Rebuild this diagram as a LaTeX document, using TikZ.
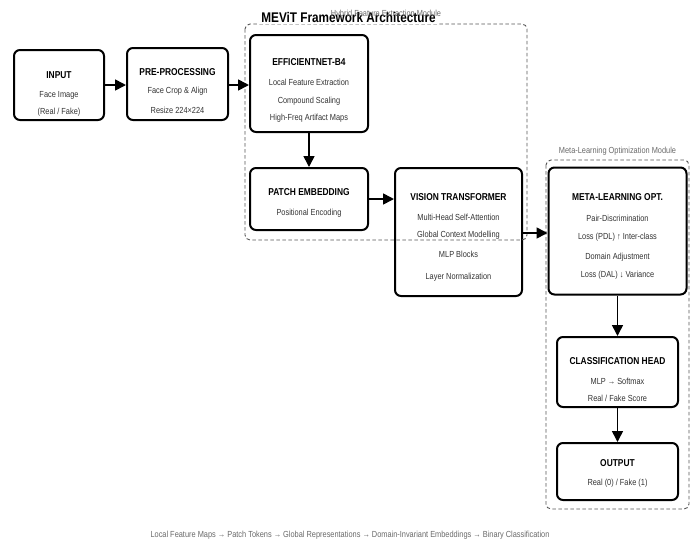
\documentclass[tikz,border=0pt]{standalone}
\usepackage{fontspec}
\setmainfont{Liberation Sans}[FakeStretch=0.84]
\usetikzlibrary{arrows.meta}
\definecolor{bodytxt}{HTML}{333333}
\definecolor{modtxt}{HTML}{6A6A6A}
\definecolor{modline}{HTML}{555555}
\tikzset{
  blk/.style={draw=black, line width=2pt, rounded corners=6pt, fill=white, inner sep=0pt},
  ttl/.style={font=\bfseries\fontsize{10}{12}\selectfont, text=black, inner sep=0pt},
  bdy/.style={font=\fontsize{8.8}{10}\selectfont, text=bodytxt, inner sep=0pt},
  modbox/.style={draw=modline, dash pattern=on 3.5pt off 2.5pt, line width=0.9pt, rounded corners=5pt},
  modlbl/.style={font=\fontsize{8.8}{10}\selectfont, text=modtxt, inner sep=0pt},
  flow/.style={draw=black, line width=1.6pt, -{Triangle[length=11pt,width=11pt]}},
}
\begin{document}
\begin{tikzpicture}[x=1pt,y=-1pt]
\useasboundingbox[fill=white] (0,0) rectangle (694,539);

% boxes
\node[blk, minimum width=90pt, minimum height=70pt] (input) at (59,85) {};
\node[blk, minimum width=101pt, minimum height=72pt] (pre) at (177.5,84) {};
\node[blk, minimum width=118pt, minimum height=97pt] (eff) at (309,83.5) {};
\node[blk, minimum width=118pt, minimum height=62pt] (patch) at (309,199) {};
\node[blk, minimum width=127pt, minimum height=128pt] (vit) at (458.5,232) {};
\node[blk, minimum width=138pt, minimum height=127pt] (meta) at (617.5,231) {};
\node[blk, minimum width=121pt, minimum height=70pt] (cls) at (617.5,372) {};
\node[blk, minimum width=121pt, minimum height=57pt] (out) at (617.5,471.5) {};

% texts
\node[ttl] (t1) at (59,75) {INPUT};
\node[bdy] (t1a) at (59,95) {Face Image};
\node[bdy] (t1b) at (59,112) {(Real / Fake)};

\node[ttl] (t2) at (177.5,72) {PRE-PROCESSING};
\node[bdy] (t2a) at (177.5,91) {Face Crop \& Align};
\node[bdy] (t2b) at (177.5,110) {Resize 224×224};

\node[ttl] (t3) at (309,62) {EFFICIENTNET-B4};
\node[bdy] (t3a) at (309,82) {Local Feature Extraction};
\node[bdy] (t3b) at (309,101) {Compound Scaling};
\node[bdy] (t3c) at (309,118) {High-Freq Artifact Maps};

\node[ttl] (t4) at (309,192) {PATCH EMBEDDING};
\node[bdy] (t4a) at (309,213) {Positional Encoding};

\node[ttl] (t5) at (458.5,197) {VISION TRANSFORMER};
\node[bdy] (t5a) at (458.5,217) {Multi-Head Self-Attention};
\node[bdy] (t5b) at (458.5,235) {Global Context Modelling};
\node[bdy] (t5c) at (458.5,254) {MLP Blocks};
\node[bdy] (t5d) at (458.5,277) {Layer Normalization};

\node[ttl] (t6) at (617.5,197) {META-LEARNING OPT.};
\node[bdy] (t6a) at (617.5,218) {Pair-Discrimination};
\node[bdy] (t6b) at (617.5,237) {Loss (PDL) ↑ Inter-class};
\node[bdy] (t6c) at (617.5,257) {Domain Adjustment};
\node[bdy] (t6d) at (617.5,275) {Loss (DAL) ↓ Variance};

\node[ttl] (t7) at (617.5,361) {CLASSIFICATION HEAD};
\node[bdy] (t7a) at (617.5,381) {MLP → Softmax};
\node[bdy] (t7b) at (617.5,398) {Real / Fake Score};

\node[ttl] (t8) at (617.5,463) {OUTPUT};
\node[bdy] (t8a) at (617.5,483) {Real (0) / Fake (1)};

% module frames
\draw[modbox] (245,24) rectangle (527,240);
\draw[modbox] (546,160) rectangle (689,509);
\node[modlbl] (m2) at (617.5,151) {Meta-Learning Optimization Module};

% title
\node[font=\bfseries\fontsize{14}{16}\selectfont, fill=white, inner sep=2pt] (title) at (348.5,17) {MEViT Framework Architecture};
\node[modlbl] (m1) at (386,14) {Hybrid Feature Extraction Module};

% connectors
\draw[flow] (input.east) -- (input.east -| pre.west);
\draw[flow] (pre.east |- 0,85) -- (eff.west |- 0,85);
\draw[flow] (eff.south) -- (patch.north);
\draw[flow] (patch.east) -- (patch.east -| vit.west);
\draw[flow] (vit.east |- 0,233) -- (meta.west |- 0,233);
\draw[flow] (meta.south) -- (cls.north);
\draw[flow] (cls.south) -- (out.north);

% caption
\node[modlbl] (cap) at (350,535) {Local Feature Maps → Patch Tokens → Global Representations → Domain-Invariant Embeddings → Binary Classification};
\end{tikzpicture}
\end{document}
